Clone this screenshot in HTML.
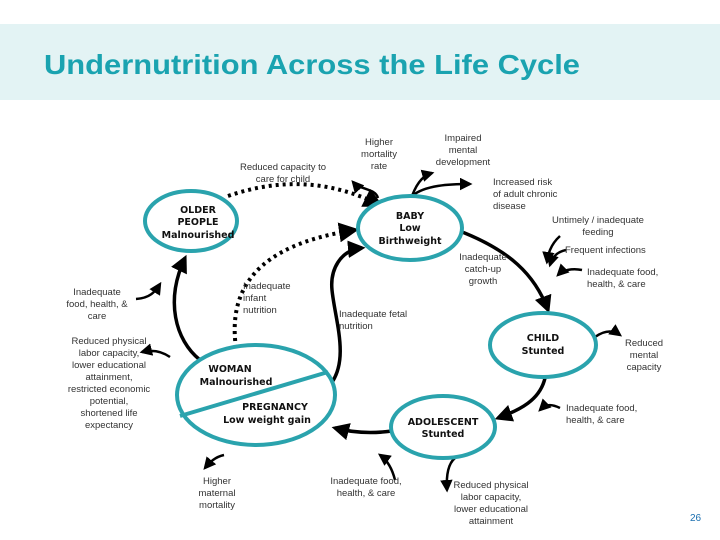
<!DOCTYPE html>
<html><head><meta charset="utf-8"><style>
html,body{margin:0;padding:0;background:#fff;}
svg{display:block;}
.t{font-family:"Liberation Sans",sans-serif;font-size:9.5px;fill:#333;}
.b{font-family:"DejaVu Sans",sans-serif;font-size:9.5px;font-weight:bold;fill:#111;}
</style></head><body>
<svg width="720" height="540" viewBox="0 0 720 540" xmlns="http://www.w3.org/2000/svg">
<defs>
<marker id="a" viewBox="0 0 10 10" refX="8" refY="5" markerWidth="5" markerHeight="5" orient="auto"><path d="M0,0 L10,5 L0,10 z" fill="#000"/></marker>
</defs>
<rect x="0" y="24" width="720" height="76" fill="#e3f3f4"/>
<text x="44" y="74" font-family="Liberation Sans,sans-serif" font-weight="bold" font-size="28" fill="#1aa3b0" textLength="536" lengthAdjust="spacingAndGlyphs">Undernutrition Across the Life Cycle</text>

<g fill="none" stroke="#000" stroke-width="3.5" marker-end="url(#a)">
<path d="M200,360 C175,340 165,300 185,258"/>
<path d="M457,230 C510,250 535,275 548,310"/>
<path d="M545,378 C540,400 520,410 498,418"/>
<path d="M392,431 C370,434 350,432 335,428"/>
<path d="M330,385 C350,360 335,320 332,290 C330,270 340,250 362,248"/>
<path d="M378,198 C375,188 360,190 353,182" stroke-width="2.5"/>
<path d="M412,196 C418,180 425,175 432,173" stroke-width="2.5"/>
<path d="M412,196 C425,185 450,184 470,184" stroke-width="2.5"/>
<path d="M560,236 C550,245 548,255 547,262" stroke-width="2.5"/>
<path d="M566,250 C556,252 552,258 550,265" stroke-width="2.5"/>
<path d="M582,270 C572,268 563,270 558,275" stroke-width="2.5"/>
<path d="M595,337 C605,330 613,330 620,335" stroke-width="2.5"/>
<path d="M560,408 C550,403 545,405 540,410" stroke-width="2.5"/>
<path d="M395,480 C392,468 387,460 380,455" stroke-width="2.5"/>
<path d="M136,299 C150,298 155,292 160,284" stroke-width="2.5"/>
<path d="M170,357 C160,350 150,350 142,352" stroke-width="2.5"/>
<path d="M224,455 C215,457 210,462 205,468" stroke-width="2.5"/>
<path d="M455,458 C449,463 446,474 447,490" stroke-width="2.5"/>
</g>
<g fill="none" stroke="#000" stroke-width="4" stroke-dasharray="3,4" marker-end="url(#a)">
<path d="M228,196 C280,178 330,180 380,205"/>
<path d="M236,348 C228,290 255,245 355,230"/>
</g>

<g fill="#fff" stroke="#2aa3ad" stroke-width="4">
<ellipse cx="191" cy="221" rx="46" ry="30"/>
<ellipse cx="410" cy="228" rx="52" ry="32"/>
<ellipse cx="543" cy="345" rx="53" ry="32"/>
<ellipse cx="443" cy="427" rx="52" ry="31"/>
<ellipse cx="256" cy="395" rx="79" ry="50"/>
</g>
<line x1="180" y1="416" x2="328" y2="372" stroke="#2aa3ad" stroke-width="4"/>

<g class="b" text-anchor="middle">
<text x="198" y="213">OLDER</text><text x="198" y="225">PEOPLE</text><text x="198" y="238">Malnourished</text>
<text x="410" y="219">BABY</text><text x="410" y="231">Low</text><text x="410" y="244">Birthweight</text>
<text x="543" y="341">CHILD</text><text x="543" y="354">Stunted</text>
<text x="443" y="425">ADOLESCENT</text><text x="443" y="437">Stunted</text>
<text x="230" y="372">WOMAN</text><text x="236" y="385">Malnourished</text>
<text x="275" y="410">PREGNANCY</text><text x="267" y="423">Low weight gain</text>
</g>
<g class="t" text-anchor="middle">
<text x="283" y="170">Reduced capacity to</text><text x="283" y="182">care for child</text>
<text x="379" y="145">Higher</text><text x="379" y="157">mortality</text><text x="379" y="169">rate</text>
<text x="463" y="141">Impaired</text><text x="463" y="153">mental</text><text x="463" y="165">development</text>
<text x="598" y="223">Untimely / inadequate</text><text x="598" y="235">feeding</text>
<text x="483" y="260">Inadequate</text><text x="483" y="272">catch-up</text><text x="483" y="284">growth</text>
<text x="97" y="295">Inadequate</text><text x="97" y="307">food, health, &amp;</text><text x="97" y="319">care</text>
<text x="109" y="344">Reduced physical</text><text x="109" y="356">labor capacity,</text><text x="109" y="368">lower educational</text><text x="109" y="380">attainment,</text><text x="109" y="392">restricted economic</text><text x="109" y="404">potential,</text><text x="109" y="416">shortened life</text><text x="109" y="428">expectancy</text>
<text x="217" y="484">Higher</text><text x="217" y="496">maternal</text><text x="217" y="508">mortality</text>
<text x="366" y="484">Inadequate food,</text><text x="366" y="496">health, &amp; care</text>
<text x="491" y="488">Reduced physical</text><text x="491" y="500">labor capacity,</text><text x="491" y="512">lower educational</text><text x="491" y="524">attainment</text>
<text x="644" y="346">Reduced</text><text x="644" y="358">mental</text><text x="644" y="370">capacity</text>
</g>
<g class="t">
<text x="493" y="185">Increased risk</text><text x="493" y="197">of adult chronic</text><text x="493" y="209">disease</text>
<text x="565" y="253">Frequent infections</text>
<text x="587" y="275">Inadequate food,</text><text x="587" y="287">health, &amp; care</text>
<text x="243" y="289">Inadequate</text><text x="243" y="301">infant</text><text x="243" y="313">nutrition</text>
<text x="339" y="317">Inadequate fetal</text><text x="339" y="329">nutrition</text>
<text x="566" y="411">Inadequate food,</text><text x="566" y="423">health, &amp; care</text>
</g>
<text x="690" y="521" font-family="Liberation Sans,sans-serif" font-size="10" fill="#1a6fb0">26</text>
</svg>
</body></html>
